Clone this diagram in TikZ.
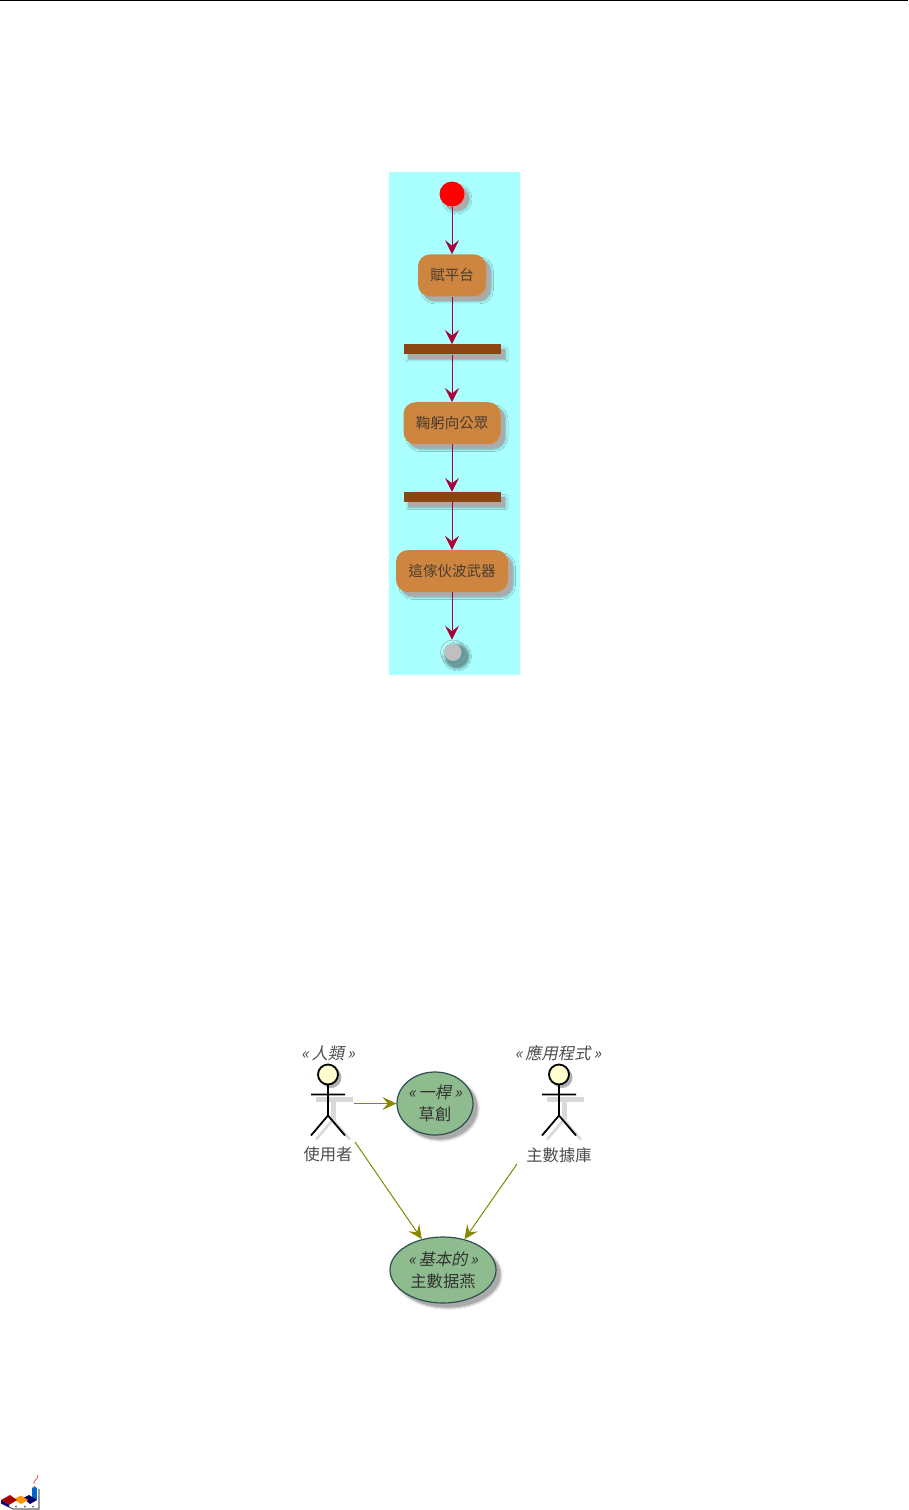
\documentclass[tikz,border=0pt]{standalone}
\usepackage{fontspec}
\setmainfont{Noto Sans CJK TC}
\newfontfamily\slantcjk[FakeSlant=0.2]{Noto Sans CJK TC}
\usepackage{xcolor}
\usetikzlibrary{
  arrows.meta,
  positioning,
  shadows,
  shadows.blur,
  shapes.geometric
}
\definecolor{swimcyan}{RGB}{170,255,255}
\definecolor{actpeach}{RGB}{205,133,63}
\definecolor{barbrown}{RGB}{139,69,19}
\definecolor{flowred}{RGB}{168,0,54}
\definecolor{flowolive}{RGB}{136,136,0}
\definecolor{casegreen}{RGB}{143,188,143}
\definecolor{caseslate}{RGB}{47,79,79}
\definecolor{headcream}{RGB}{254,254,206}
\definecolor{inkgray}{RGB}{72,60,50}
\tikzset{
  softshadow/.style={blur shadow={shadow xshift=5pt,shadow yshift=-5pt,
    shadow blur radius=2.5pt,shadow opacity=35},
    drop shadow={shadow xshift=4.5pt,shadow yshift=-4.5pt,fill=black!33,opacity=1}},
  activity/.style={fill=actpeach,rounded corners=12pt,minimum height=42pt,
    inner sep=0pt,softshadow,text=inkgray,
    font=\fontsize{14.5}{16}\selectfont},
  forkbar/.style={fill=barbrown,minimum width=97pt,minimum height=10pt,
    inner sep=0pt,softshadow},
  startdot/.style={circle,fill=red,minimum size=25pt,inner sep=0pt,softshadow},
  enddot/.style={circle,draw=black!40,thin,minimum size=25pt,inner sep=0pt,
    blur shadow={shadow xshift=4pt,shadow yshift=-4pt,
    shadow blur radius=2pt,shadow opacity=40}},
  usecase/.style={ellipse,draw=caseslate,line width=1.2pt,fill=casegreen,inner sep=0pt,
    align=center,softshadow,text=black!80,
    font=\fontsize{16.3}{22}\selectfont},
  actlab/.style={text=black!70,inner sep=0pt,font=\fontsize{16.3}{18}\selectfont},
  stereo/.style={text=black!70,inner sep=0pt,font=\fontsize{16.3}{18}\selectfont\slantcjk},
  ctrlflow/.style={-{Stealth[length=14pt,width=14pt,inset=5.5pt]},line width=1pt,draw=flowred},
  useflow/.style={-{Stealth[length=14pt,width=13pt,inset=5.5pt]},line width=1pt,draw=flowolive},
  actorfig/.pic={
    \draw[line width=5pt,black!15] (5,25)--(5,45) (-12,25)--(25,25);
    \draw[line width=2.5pt,black!15] (5,45)--(-12,65) (5,45)--(22,65);
    \fill[black!30] (3,3) circle (10.5);
    \draw[line width=1.8pt,fill=headcream] (0,0) circle (10);
    \draw[line width=1.8pt] (0,10)--(0,41) (-17,20)--(17,20) (0,41)--(-17,61) (0,41)--(17,61);
  }
}
\begin{document}
\begin{tikzpicture}[x=1pt,y=-1pt,node distance=47.5pt]
  \useasboundingbox (0,0) rectangle (908,1510);
  % page rule
  \coordinate (ruleleft) at (0,0.5);
  \coordinate (ruleright) at (908,0.5);
  \draw[thin] (ruleleft)--(ruleright);
  % activity diagram
  \fill[swimcyan] (389,172) rectangle (520,675);
  \node[startdot] (start) at (452,194) {};
  \node[activity,minimum width=68pt,below=of start] (stage) {賦平台};
  \node[forkbar,below=of stage] (forkone) {};
  \node[activity,minimum width=97pt,below=of forkone] (bow) {鞠躬向公眾};
  \node[forkbar,below=of bow] (forktwo) {};
  \node[activity,minimum width=112pt,below=of forktwo] (wave) {這傢伙波武器};
  \node[enddot,below=47.5pt of wave,xshift=1pt] (finish) {};
  \fill[black!25] (finish) circle (8.5pt);
  \draw[ctrlflow] (start)--(stage);
  \draw[ctrlflow] (stage)--(forkone);
  \draw[ctrlflow] (forkone)--(bow);
  \draw[ctrlflow] (bow)--(forktwo);
  \draw[ctrlflow] (forktwo)--(wave);
  \draw[ctrlflow] (wave)--(wave|-finish.north);
  % use case diagram
  \pic at (328,1074.5) {actorfig};
  \pic at (559,1074.5) {actorfig};
  \node[stereo] (humanlab) at (328,1053) {«\,人類\,»};
  \node[stereo] (applab) at (558,1053) {«\,應用程式\,»};
  \node[actlab] (user) at (328,1154) {使用者};
  \node[actlab] (database) at (559,1155) {主數據庫};
  \node[usecase,minimum width=76pt,minimum height=63pt] (draft) at (435,1103.5)
    {\raisebox{-3pt}{\slantcjk «\,一桿\,»}\\\raisebox{-3pt}{草創}};
  \node[usecase,minimum width=106pt,minimum height=66pt] (master) at (443,1270)
    {\raisebox{-2pt}{\slantcjk «\,基本的\,»}\\\raisebox{-2pt}{主數据燕}};
  \coordinate (userright) at (354,1103.5);
  \coordinate (userdown) at (355,1142);
  \coordinate (dbdown) at (517,1164);
  \draw[useflow] (userright)--(draft);
  \draw[useflow] (userdown)--(master);
  \draw[useflow] (dbdown)--(master);
  % logo
  \fill[white] (14,1500) rectangle (38,1509);
  \draw[black!60,line width=1.2pt] (1,1503)--(13,1509)--(39,1509)--(39,1489);
  \fill[blue!50!cyan!80!black] (32,1487.5) rectangle (37,1500);
  \fill[black!55] (32,1488) -- (34.5,1486) -- (37,1488) -- cycle;
  \draw[red!70,thick] (34,1484) .. controls (33,1480) and (38,1480) .. (38,1475);
  \fill[blue!40!black] (23,1498) -- (29,1495) -- (37,1500) -- (30,1504) -- cycle;
  \fill[orange!85!yellow] (14,1499) -- (21,1495.5) -- (28,1500) -- (21,1504) -- cycle;
  \fill[red!65!black] (1,1500) -- (10,1495) -- (17,1500) -- (9,1505) -- cycle;
  \fill[blue!60!black] (1,1500) -- (9,1505) -- (9,1507) -- (1,1503) -- cycle;
  \fill[black!65] (16,1506.5) circle (1);
  \fill[black!65] (25,1506.5) circle (1);
  \fill[black!65] (33,1506.5) circle (1);
\end{tikzpicture}
\end{document}
